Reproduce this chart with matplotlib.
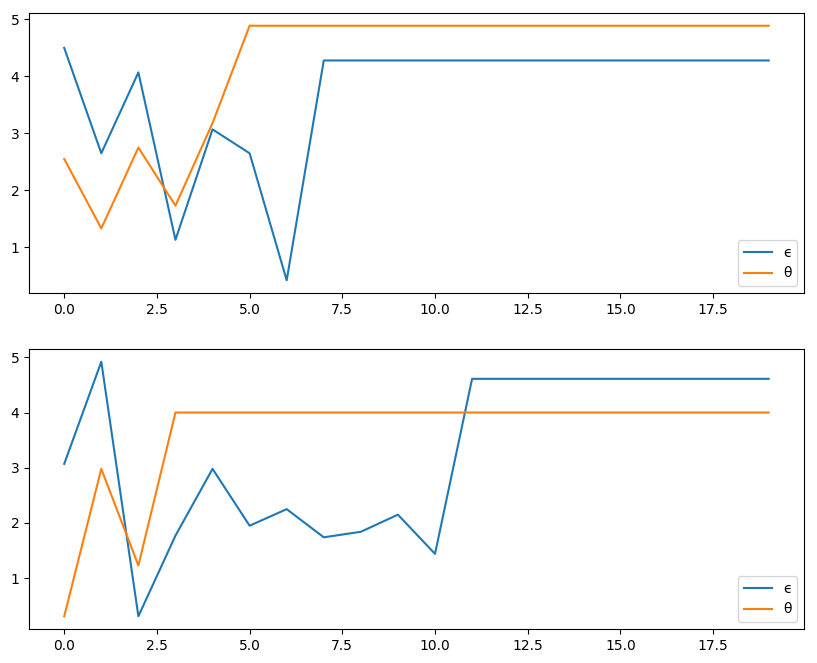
import matplotlib
matplotlib.use("Agg")
import matplotlib.pyplot as plt

x = list(range(20))
top_eps = [4.50, 2.65, 4.07, 1.13, 3.07, 2.65, 0.42] + [4.28] * 13
top_theta = [2.55, 1.33, 2.75, 1.73, 3.18] + [4.89] * 15
bot_eps = [3.07, 4.92, 0.31, 1.77, 2.98, 1.95, 2.25, 1.74, 1.84, 2.15, 1.44] + [4.61] * 9
bot_theta = [0.31, 2.98, 1.23] + [4.00] * 17
labels = ["ϵ", "θ"]

fig, axes = plt.subplots(2, 1, figsize=(8.17, 6.63), dpi=100)
fig.subplots_adjust(left=0.0355, right=0.984, top=0.9804, bottom=0.0513, hspace=0.2)

for ax, e, t in zip(axes, [top_eps, bot_eps], [top_theta, bot_theta]):
    ax.plot(x, e, label=labels[0])
    ax.plot(x, t, label=labels[1])
    ax.legend(loc="lower right")

fig.savefig("out.png")
